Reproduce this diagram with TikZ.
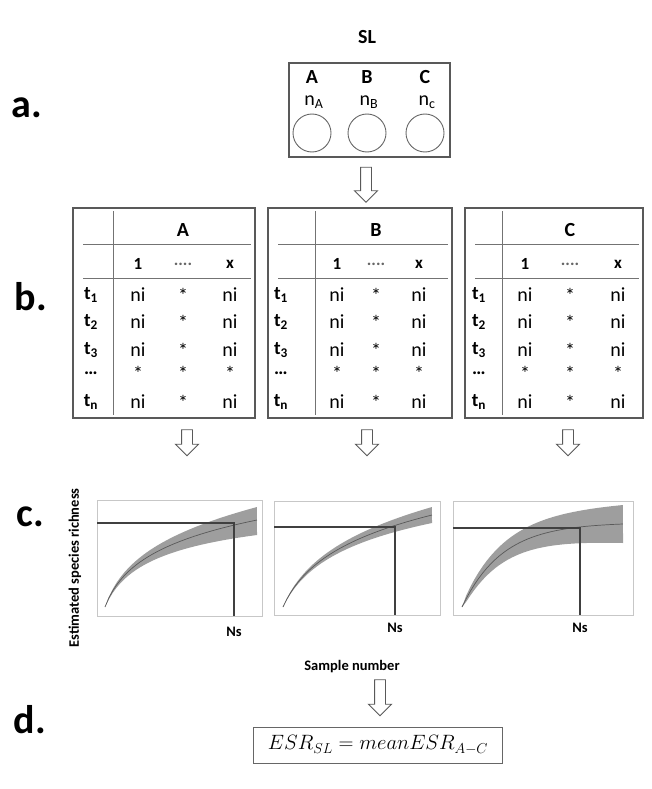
\documentclass[tikz,border=0pt]{standalone}
\usepackage{fontspec}
\setmainfont{Carlito}
\usetikzlibrary{shapes.arrows}

\tikzset{
  panel/.style={font=\bfseries\fontsize{40}{40}\selectfont},
  head/.style={font=\bfseries\fontsize{20}{20}\selectfont},
  colhead/.style={font=\bfseries\fontsize{17}{17}\selectfont},
  rowhead/.style={font=\bfseries\fontsize{19}{19}\selectfont},
  cell/.style={font=\fontsize{20}{20}\selectfont},
  axis/.style={font=\bfseries\fontsize{14.5}{14.5}\selectfont},
  tbox/.style={draw=black!65, line width=1.2pt},
  rule/.style={draw=black!55, line width=0.8pt},
  well/.style={draw=black!60, line width=0.9pt},
  frame/.style={draw=black!22, line width=1pt},
  guide/.style={draw=black!75, line width=1.5pt},
  band/.style={fill=black!38, draw=none},
  trend/.style={draw=black!65, line width=0.7pt},
  blockarrow/.style={single arrow, draw=black!65, fill=white, line width=0.9pt,
    shape border rotate=270, inner sep=5pt, minimum width=22pt,
    single arrow head extend=6pt, single arrow head indent=0pt}
}

\begin{document}
\begin{tikzpicture}[x=1pt, y=-1pt]
  \useasboundingbox (0,0) rectangle (651,789);

  % panel letters
  \node[panel] (pa) at (27,108) {a.};
  \node[panel] (pb) at (31,297) {b.};
  \node[panel] (pc) at (30,517) {c.};
  \node[panel] (pd) at (30,720) {d.};

  % a. sampling location
  \node[head] (sl) at (367,37) {SL};
  \draw[tbox] (289,63) rectangle (450,157);
  \foreach \s/\sub/\x in {A/A/312, B/B/367, C/c/425}{
    \node[head] (site\s) at (\x,77) {\s};
    \node[cell] (n\s) at (\x+2,102) {n\textsubscript{\sub}};
    \draw[well] (\x,133) circle (19);
  }
  \node[blockarrow, minimum height=35pt] (downSL) at (366,182) {};

  % b. tables
  \foreach \t/\l/\r/\v/\ca/\cb/\cc/\rl/\ax in {A/73/255/113/138/183/230/91/187,
      B/268/452/315/337/376/419/281/367, C/465/643/502/525/570/618/479/568}{
    \draw[tbox] (\l,208) rectangle (\r,418);
    \draw[rule] (\v,211) -- (\v,415);
    \draw[rule] (\l+10,244) -- (\r-4,244);
    \draw[rule] (\l+10,278) -- (\r-4,278);
    \node[head] (hd\t) at (\cb,230) {\t};
    \node[colhead] (one\t) at (\ca,264) {1};
    \node[colhead, text=black!60] (dots\t) at (\cb,264) {....};
    \node[colhead] (x\t) at (\cc,264) {x};
    \foreach \k/\y/\lab/\e in {1/295/t\textsubscript{1}/ni, 2/322/t\textsubscript{2}/ni,
        3/350/t\textsubscript{3}/ni, 4/373/{\ldots}/*, 5/402/t\textsubscript{n}/ni}{
      \node[rowhead] (row\t\k) at (\rl,\y) {\lab};
      \node[cell] (first\t\k) at (\ca,\y) {\e};
      \node[cell] (mid\t\k) at (\cb,\y) {*};
      \node[cell] (last\t\k) at (\cc,\y) {\e};
    }
    \node[blockarrow, minimum height=26pt] (down\t) at (\ax,440) {};
  }

  % c. rarefaction curves
  \fill[band] plot[domain=0:1, samples=40, variable=\u]
      ({105+152*\u}, {607-87*ln(1+12*\u)/ln(13)-13*(\u+sqrt(\u))/2})
    -- plot[domain=1:0, samples=40, variable=\u]
      ({105+152*\u}, {607-87*ln(1+12*\u)/ln(13)+15*(\u+sqrt(\u))/2}) -- cycle;
  \draw[trend] plot[domain=0:1, samples=40, variable=\u]
      ({105+152*\u}, {607-87*ln(1+12*\u)/ln(13)});
  \draw[frame] (97,500) rectangle (262,616);
  \draw[guide] (97,523) -- (234,523) -- (234,616);
  \node[axis] (nsA) at (234,632) {Ns};

  \fill[band] plot[domain=0:1, samples=40, variable=\u]
      ({283+149*\u}, {607-92*ln(1+8*\u)/ln(9)-8*(\u+sqrt(\u))/2})
    -- plot[domain=1:0, samples=40, variable=\u]
      ({283+149*\u}, {607-92*ln(1+8*\u)/ln(9)+8*(\u+sqrt(\u))/2}) -- cycle;
  \draw[trend] plot[domain=0:1, samples=40, variable=\u]
      ({283+149*\u}, {607-92*ln(1+8*\u)/ln(9)});
  \draw[frame] (274,501) rectangle (440,615);
  \draw[guide] (274,527) -- (395,527) -- (395,615);
  \node[axis] (nsB) at (395,628) {Ns};

  \fill[band] plot[domain=0:1, samples=40, variable=\u]
      ({462+161*\u}, {607-83*(1-exp(-4*\u))/(1-exp(-4))-19*sqrt(\u)})
    -- plot[domain=1:0, samples=40, variable=\u]
      ({462+161*\u}, {607-83*(1-exp(-4*\u))/(1-exp(-4))+19*sqrt(\u)}) -- cycle;
  \draw[trend] plot[domain=0:1, samples=40, variable=\u]
      ({462+161*\u}, {607-83*(1-exp(-4*\u))/(1-exp(-4))});
  \draw[frame] (453,501) rectangle (633,615);
  \draw[guide] (453,528) -- (580,528) -- (580,615);
  \node[axis] (nsC) at (580,628) {Ns};

  \node[axis, rotate=90] (ylab) at (75,568) {Estimated species richness};
  \node[axis] (xlab) at (352,667) {Sample number};

  % d. estimate
  \node[blockarrow, minimum height=36pt] (downN) at (380,695) {};
  \node[draw=black!60, line width=1pt, minimum width=249pt, minimum height=36pt,
    inner sep=2pt, font=\fontsize{21}{21}\selectfont] (esr) at (378,745)
    {$ESR_{SL} = meanESR_{A-C}$};
\end{tikzpicture}
\end{document}
